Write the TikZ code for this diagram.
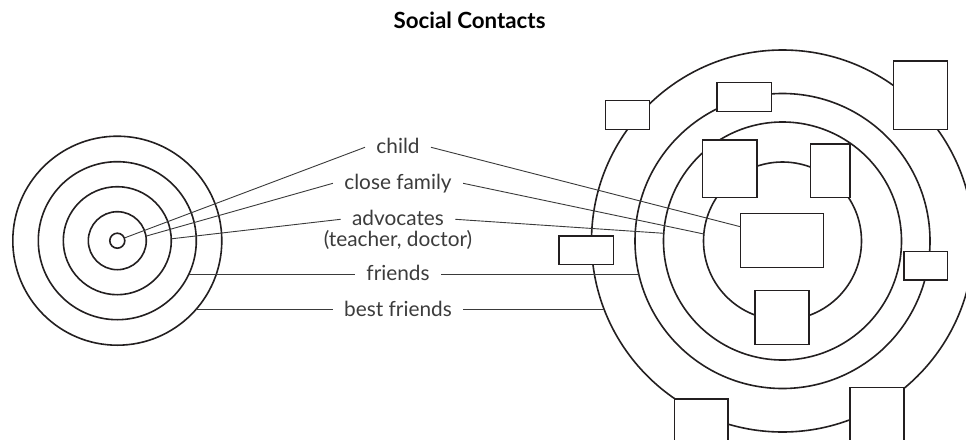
\documentclass[tikz,border=0pt]{standalone}
\usepackage{fontspec}
\setmainfont{Lato}
\usetikzlibrary{calc}
\definecolor{ink}{HTML}{231F20}
\definecolor{leader}{HTML}{3A3A3A}
\definecolor{labelgray}{HTML}{3C3C3C}
\tikzset{
  ring/.style={draw=ink, line width=1.6pt},
  leaderline/.style={draw=leader, line width=0.9pt},
  slot/.style={draw=ink, line width=1.3pt, fill=white, inner sep=0pt, outer sep=0pt, anchor=north west},
  tag/.style={text=labelgray, font=\fontsize{20.8}{22}\selectfont, inner xsep=11.5pt, inner ysep=0pt,
              text height=14pt, text depth=1pt, outer sep=0pt, anchor=center},
  heading/.style={font=\fontsize{22.3}{25}\selectfont\bfseries, anchor=base, inner sep=0pt},
}
\begin{document}
\begin{tikzpicture}[x=1pt,y=-1pt]
\useasboundingbox (0,0) rectangle (966,439);
\fill[white] (0,0) rectangle (966,439);
\clip (0,0) rectangle (966,439);

\node[heading] (title) at (469.5,28.3) {Social Contacts};

% centres of the two target diagrams
\coordinate (L) at (117.3,240.7);
\coordinate (R) at (782.5,241);

% concentric rings
\foreach \r in {7.5,29,54,79,104.5} \draw[ring] (L) circle (\r pt);
\foreach \r in {79,119,147.5,191} \draw[ring] (R) circle (\r pt);

% people placed on the rings
\node[slot, minimum width=43.6pt, minimum height=28.6pt] (p1) at (605.7,100.7) {};
\node[slot, minimum width=54.3pt, minimum height=29pt]   (p2) at (717,82.3) {};
\node[slot, minimum width=54pt,   minimum height=68.3pt] (p3) at (893.3,61) {};
\node[slot, minimum width=54.3pt, minimum height=57.3pt] (p4) at (702.7,140) {};
\node[slot, minimum width=39.3pt, minimum height=53.3pt] (p5) at (810.7,144) {};
\node[slot, minimum width=83pt,   minimum height=54pt]   (core) at (740.3,213.7) {};
\node[slot, minimum width=54.3pt, minimum height=28.7pt] (p7) at (559,236) {};
\node[slot, minimum width=43.3pt, minimum height=28.7pt] (p8) at (904,251.3) {};
\node[slot, minimum width=54pt,   minimum height=54pt]   (p9) at (755,290.7) {};
\node[slot, minimum width=53.7pt, minimum height=60pt]   (p10) at (674.3,399) {};
\node[slot, minimum width=54pt,   minimum height=60pt]   (p11) at (850,387.7) {};

% labels
\node[tag] (child) at (398,147.3) {child};
\node[tag] (family) at (398,183.3) {close family};
\node[tag] (advocates) at (398,219.3) {advocates};
\node[tag] (advnote) at (398,240.4) {(teacher, doctor)};
\node[tag] (friends) at (398,274) {friends};
\node[tag] (best) at (398,309.5) {best friends};

% leader ends on the left rings
\coordinate (Lchild) at ($(L)+(-21:7.5)$);
\coordinate (Lfamily) at ($(L)+(-9:29)$);
\coordinate (Ladv) at ($(L)+(-2:54)$);
\coordinate (Lfriends) at ($(L)+(71.64,33.3)$);
\coordinate (Lbest) at ($(L)+(78.66,68.8)$);

% leader ends on the right rings
\coordinate (Rchild) at ([yshift=-13pt]core.north west);
\coordinate (Rfamily) at ($(R)+(-78.69,-7)$);
\coordinate (Radv) at ($(R)+(-118.75,-7.7)$);
\coordinate (Rfriends) at ($(R)+(-143.76,33)$);
\coordinate (Rbest) at ($(R)+(-178.29,68.5)$);

\draw[leaderline] (Lchild) -- (child.west);
\draw[leaderline] (child.east) -- (Rchild);
\draw[leaderline] (Lfamily) -- (family.west);
\draw[leaderline] (family.east) -- (Rfamily);
\draw[leaderline] (Ladv) -- (advocates.west);
\draw[leaderline] (advocates.east) -- (Radv);
\draw[leaderline] (Lfriends) -- (friends.west);
\draw[leaderline] (friends.east) -- (Rfriends);
\draw[leaderline] (Lbest) -- (best.west);
\draw[leaderline] (best.east) -- (Rbest);
\end{tikzpicture}
\end{document}
